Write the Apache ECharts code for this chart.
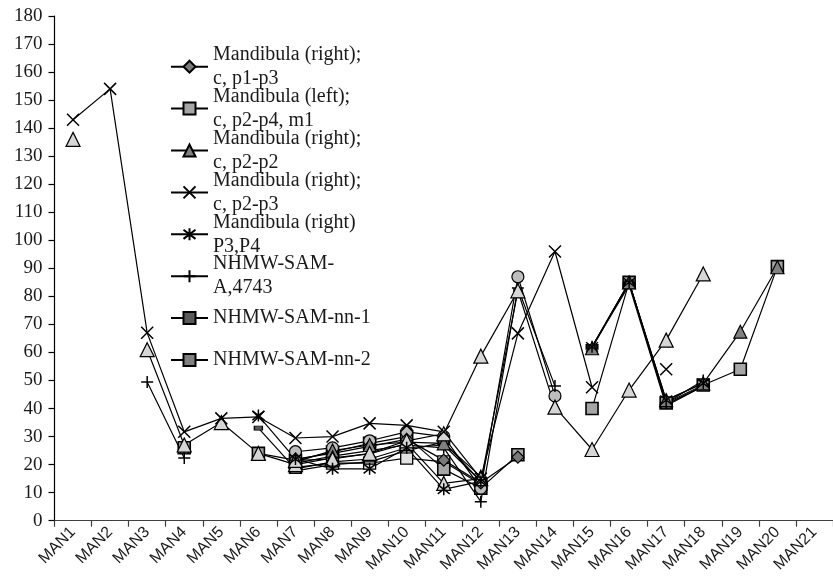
<!DOCTYPE html>
<html>
<head>
<meta charset="utf-8">
<script src="https://cdn.jsdelivr.net/npm/echarts@6/dist/echarts.min.js"></script>
<style>
  html, body { margin: 0; padding: 0; background: #fff; }
  #chart { width: 833px; height: 585px; }
</style>
</head>
<body>
<div id="chart"></div>
<script>
// Mandible measurements per landmark MAN1..MAN21 (null = not measured)
const _ = null;
const categories = ['MAN1','MAN2','MAN3','MAN4','MAN5','MAN6','MAN7','MAN8','MAN9','MAN10','MAN11',
  'MAN12','MAN13','MAN14','MAN15','MAN16','MAN17','MAN18','MAN19','MAN20','MAN21'];

const yMin = 0, yMax = 180, yStep = 10;

const legendNames = [
  'Mandibula (right);\nc, p1-p3',
  'Mandibula (left);\nc, p2-p4, m1',
  'Mandibula (right);\nc, p2-p2',
  'Mandibula (right);\nc, p2-p3',
  'Mandibula (right)\nP3,P4',
  'NHMW-SAM-\nA,4743',
  'NHMW-SAM-nn-1',
  'NHMW-SAM-nn-2'
];

const rightP1P3   = [_, _, _, _, _, _, 22, 24, 26.5, 29, 21.6, 13.5, 22.7, _, _, _, _, _, _, _, _];
const leftP2P4M1  = [_, _, _, 26, _, 24, 21.6, 24.5, 27.6, 30, 18.4, 11.6, 23.5, _, 40, 85, 42, 48.4, 54, 90.6, _];
const rightP2P2   = [_, _, _, _, _, _, 21, 25, 27, 28, 27.6, 15.7, _, _, 61.5, 85, 43, 49, 67.4, 90.4, _];
const rightP2P3   = [143, 154, 67, 31.7, 36.5, 37, 29.5, 30, 34.7, 34, 31.7, 15, 66.8, 96, 47.6, _, 54, _, _, _, _];
const rightP3P4   = [_, _, _, _, _, 37.5, 22, 18.5, 18.5, 26, 11.2, 14, _, _, 62, 85, 43, 49, _, _, _];
const samA4743    = [_, _, 49.5, 22.4, _, _, 20.5, 23, 25, 27, 26, 6.8, 83, 48, _, 85, 42, 50, _, _, _];
const samNn1      = [_, _, _, 24.6, _, 33, 18.5, 21, 22, 26, 27, 14, 82, _, 62, 85, 41.5, 48, _, _, _];
const samNn2      = [_, _, _, _, _, _, 17.8, 20, 21, 25, 28, 14, _, _, 62, 84, 41, 48, _, _, _];
const circleSet   = [_, _, _, _, _, _, 24.6, 26, 28.5, 31.7, 30, 11.6, 87, 44.5, _, _, _, _, _, _, _];
const lightTriA   = [136, _, 61, 27, 35, 24, 20, 22.4, 23.8, 27.6, 13.3, 15, _, _, _, _, _, _, _, _, _];
const lightTriB   = [_, _, _, _, _, _, 21.5, 22, 24, 28.5, 31, 58.7, 82, 40.5, 25.4, 46.6, 64.4, 88, _, _, _];
const lightSquare = [_, _, _, _, _, _, 19, 20.5, 20.5, 22.3, 21, 13, _, _, _, _, _, _, _, _, _];

// stroke-only marker shapes
const CROSS = 'path://M0,0L10,10M10,0L0,10';
const STAR  = 'path://M0,0L10,10M10,0L0,10M5,-1.5L5,11.5';
const PLUS  = 'path://M5,0L5,10M0,5L10,5';

function lineSeries(name, values, symbol, size, fill, borderWidth) {
  const stroked = fill === 'none';
  return {
    name: name,
    type: 'line',
    data: values,
    symbol: symbol,
    symbolSize: size,
    showAllSymbol: true,
    connectNulls: false,
    lineStyle: { color: '#000', width: 1.2 },
    itemStyle: {
      color: fill,
      borderColor: '#000',
      borderWidth: stroked ? 1.5 : borderWidth
    },
    emphasis: { disabled: true },
    z: 2
  };
}

const series = [
  lineSeries('series 12', lightSquare, 'rect', 12, '#e3e3e3', 1.3),
  lineSeries(legendNames[1], leftP2P4M1, 'rect', 12, '#a6a6a6', 1.6),
  lineSeries('series 9', circleSet, 'circle', 12, '#bdbdbd', 1.2),
  lineSeries(legendNames[0], rightP1P3, 'diamond', 12, '#7a7a7a', 1.2),
  lineSeries(legendNames[7], samNn2, 'rect', [11, 5], '#808080', 1.4),
  lineSeries(legendNames[6], samNn1, 'rect', [8, 4], '#5a5a5a', 1),
  lineSeries(legendNames[5], samA4743, PLUS, 12, 'none', 1.5),
  lineSeries(legendNames[2], rightP2P2, 'triangle', 13, '#808080', 1.2),
  lineSeries('series 10', lightTriA, 'triangle', 14, '#d6d6d6', 1.2),
  lineSeries('series 11', lightTriB, 'triangle', 14, '#d6d6d6', 1.2),
  lineSeries(legendNames[3], rightP2P3, CROSS, 12, 'none', 1.5),
  lineSeries(legendNames[4], rightP3P4, STAR, 12, 'none', 1.5)
];

// one legend block per entry, stacked down the left of the plot
const LH = 24;
const legends = legendNames.map(function (name, i) {
  const twoLine = name.indexOf('\n') >= 0;
  const iconY = 66.7 + 41.9 * i;
  const boxH = twoLine ? 3 * LH : LH;
  return {
    show: true,
    data: [{ name: name, textStyle: twoLine ? { padding: [LH, 0, 0, 0] } : {} }],
    left: 170,
    top: iconY - boxH / 2,
    orient: 'vertical',
    padding: 0,
    itemWidth: 37,
    itemHeight: 15,
    itemGap: 0,
    selectedMode: false,
    textStyle: { fontFamily: 'Liberation Serif', fontSize: 20, lineHeight: LH, color: '#1a1a1a' }
  };
});

const chart = echarts.init(document.getElementById('chart'), null, { renderer: 'canvas' });
chart.setOption({
  animation: false,
  backgroundColor: '#fff',
  legend: legends,
  grid: { left: 54.5, top: 16, width: 786.5, height: 504.7, containLabel: false },
  xAxis: {
    type: 'category',
    data: categories,
    boundaryGap: true,
    axisLine: { show: true, lineStyle: { color: '#404040', width: 1.2 } },
    axisTick: { show: true, length: 6, inside: false, lineStyle: { color: '#404040', width: 1.2 } },
    axisLabel: {
      interval: 0, rotate: 45, margin: 9,
      fontFamily: 'Liberation Sans', fontSize: 16, color: '#1a1a1a'
    },
    splitLine: { show: false }
  },
  yAxis: {
    type: 'value',
    min: yMin, max: yMax, interval: yStep,
    axisLine: { show: true, lineStyle: { color: '#000', width: 1.2 } },
    axisTick: { show: true, length: 6, inside: false, lineStyle: { color: '#000', width: 1.2 } },
    axisLabel: { margin: 12, fontFamily: 'Liberation Serif', fontSize: 19, color: '#1a1a1a' },
    splitLine: { show: false }
  },
  series: series
});
</script>
</body>
</html>
